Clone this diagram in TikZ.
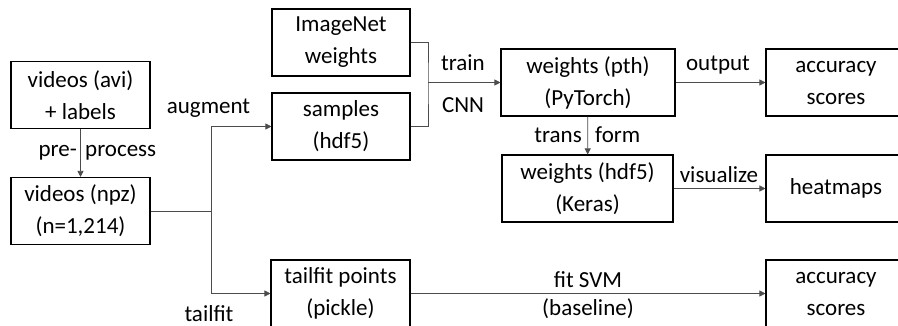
\documentclass[tikz,border=0pt]{standalone}
\usepackage{fontspec}
\setmainfont{Carlito}
\usetikzlibrary{arrows.meta}
\begin{document}
\begin{tikzpicture}[x=1pt,y=-1pt,
  box/.style={draw=black,line width=1.1pt,rectangle,minimum width=#1,minimum height=67pt,
    align=center,inner sep=0pt,font=\fontsize{23}{32}\selectfont},
  box/.default=139pt,
  lbl/.style={font=\fontsize{23}{28}\selectfont,inner sep=0pt},
  conn/.style={draw=black!70,line width=0.8pt},
  arr/.style={conn,-{Triangle[length=6pt,width=6pt]}}]
\useasboundingbox (0,0) rectangle (898,326);
\clip (0,0) rectangle (898,326);
% boxes
\node[box] (avi) at (80.5,95) {videos (avi)\\+ labels};
\node[box] (npz) at (80.5,211) {videos (npz)\\(n=1,214)};
\node[box=138pt] (imnet) at (341,42.5) {ImageNet\\weights};
\node[box=138pt] (samples) at (341,126.5) {samples\\(hdf5)};
\node[box=174pt] (pth) at (588,82.5) {weights (pth)\\(PyTorch)};
\node[box=140pt] (acc1) at (836,82.5) {accuracy\\scores};
\node[box=171pt] (hdf) at (587.5,188.5) {weights (hdf5)\\(Keras)};
\node[box=140pt] (heat) at (836,188.5) {heatmaps};
\node[box=139pt] (tail) at (340.5,293.5) {tailfit points\\(pickle)};
\node[box=140pt] (acc2) at (836,293.5) {accuracy\\scores};
% coordinates
\coordinate (j) at (211,211);
\coordinate (b) at (428,82.5);
% connectors
\draw[arr] (avi) -- (npz);
\draw[conn] (npz.east) -- (j);
\draw[arr] (j) |- (samples.west);
\draw[arr] (j) |- (tail.west);
\draw[conn] (imnet.east) -| (b) |- (samples.east);
\draw[arr] (b) -- (pth.west);
\draw[arr] (pth) -- (acc1);
\draw[arr] (pth) -- (hdf);
\draw[arr] (hdf) -- (heat);
\draw[arr] (tail) -- (acc2);
% labels
\node[lbl,anchor=east] (pre) at (77,153) {pre-};
\node[lbl,anchor=west] (proc) at (85,153) {process};
\node[lbl] (aug) at (208.5,108) {augment};
\node[lbl] (tf) at (209,314) {tailfit};
\node[lbl] (train) at (463,63) {train};
\node[lbl] (cnn) at (463,105) {CNN};
\node[lbl] (out) at (718,65) {output};
\node[lbl,anchor=east] (trans) at (582,135) {trans};
\node[lbl,anchor=west] (form) at (595,135) {form};
\node[lbl] (vis) at (719,175) {visualize};
\node[lbl] (svm) at (588,280) {fit SVM};
\node[lbl] (base) at (588,309) {(baseline)};
\end{tikzpicture}
\end{document}
